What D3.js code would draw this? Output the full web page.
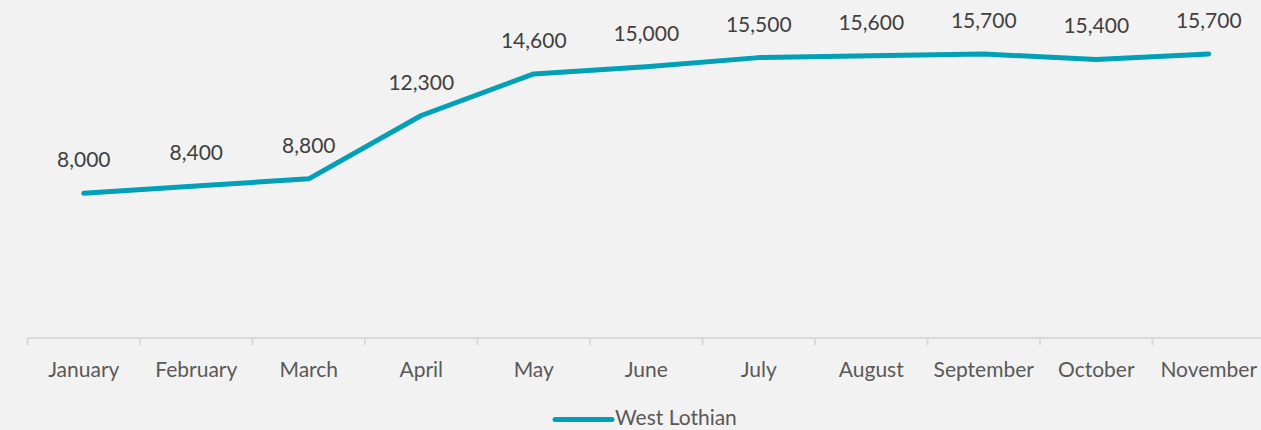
<!DOCTYPE html>
<html>
<head>
<meta charset="utf-8">
<script src="https://cdn.jsdelivr.net/npm/d3@7"></script>
<style>
  html, body { margin: 0; padding: 0; background: #f2f2f2; }
  svg { display: block; font-family: Lato, "Open Sans", sans-serif; }
</style>
</head>
<body>
<svg width="1261" height="430"></svg>
<script>
const months = ['January', 'February', 'March', 'April', 'May', 'June', 'July',
  'August', 'September', 'October', 'November'];
const westLothian = [8000, 8400, 8800, 12300, 14600, 15000, 15500, 15600, 15700, 15400, 15700];
const seriesName = 'West Lothian';

const width = 1261, height = 430;
const svg = d3.select('svg');

svg.append('rect').attr('width', width).attr('height', height).attr('fill', '#f2f2f2');

const x = d3.scaleBand().domain(months).range([27.5, 1265]);
const y = d3.scaleLinear().domain([0, 18000]).range([338, 12.4]);

// axis line + ticks at category boundaries
const axisG = svg.append('g');
axisG.append('line')
  .attr('x1', x.range()[0]).attr('x2', x.range()[1])
  .attr('y1', y(0)).attr('y2', y(0))
  .attr('stroke', '#d9d9d9').attr('stroke-width', 2);

const edges = months.map(m => x(m)).concat([x.range()[1]]);
axisG.selectAll('line.tick')
  .data(edges)
  .enter().append('line')
  .attr('class', 'tick')
  .attr('x1', d => d).attr('x2', d => d)
  .attr('y1', y(0)).attr('y2', y(0) + 7)
  .attr('stroke', '#d9d9d9').attr('stroke-width', 2);

// category labels
const xAxis = d3.axisBottom(x).tickSize(0).tickPadding(0);
const labels = svg.append('g')
  .attr('transform', `translate(0,${y(0)})`)
  .call(xAxis);
labels.select('.domain').remove();
labels.selectAll('text')
  .attr('dy', null)
  .attr('y', 38.5)
  .attr('font-size', 21)
  .attr('font-family', 'Lato, "Open Sans", sans-serif')
  .attr('fill', '#595959');

// line
const cx = m => x(m) + x.bandwidth() / 2;
const line = d3.line()
  .x((d, i) => cx(months[i]))
  .y(d => y(d));

svg.append('path')
  .datum(westLothian)
  .attr('fill', 'none')
  .attr('stroke', '#00a0b6')
  .attr('stroke-width', 5)
  .attr('stroke-linejoin', 'round')
  .attr('stroke-linecap', 'round')
  .attr('d', line);

// data labels
svg.append('g')
  .selectAll('text')
  .data(westLothian)
  .enter().append('text')
  .attr('x', (d, i) => cx(months[i]))
  .attr('y', d => y(d) - 26)
  .attr('text-anchor', 'middle')
  .attr('font-size', 21)
  .attr('fill', '#404040')
  .text(d => d3.format(',')(d));

// legend (nudged up a little so the text stays inside the frame)
const lg = svg.append('g').attr('transform', 'translate(555,419.5)');
lg.append('line')
  .attr('x1', 0).attr('x2', 57)
  .attr('stroke', '#00a0b6').attr('stroke-width', 5)
  .attr('stroke-linecap', 'round');
lg.append('text')
  .attr('x', 60).attr('y', 5)
  .attr('font-size', 21)
  .attr('fill', '#595959')
  .text(seriesName);
</script>
</body>
</html>
